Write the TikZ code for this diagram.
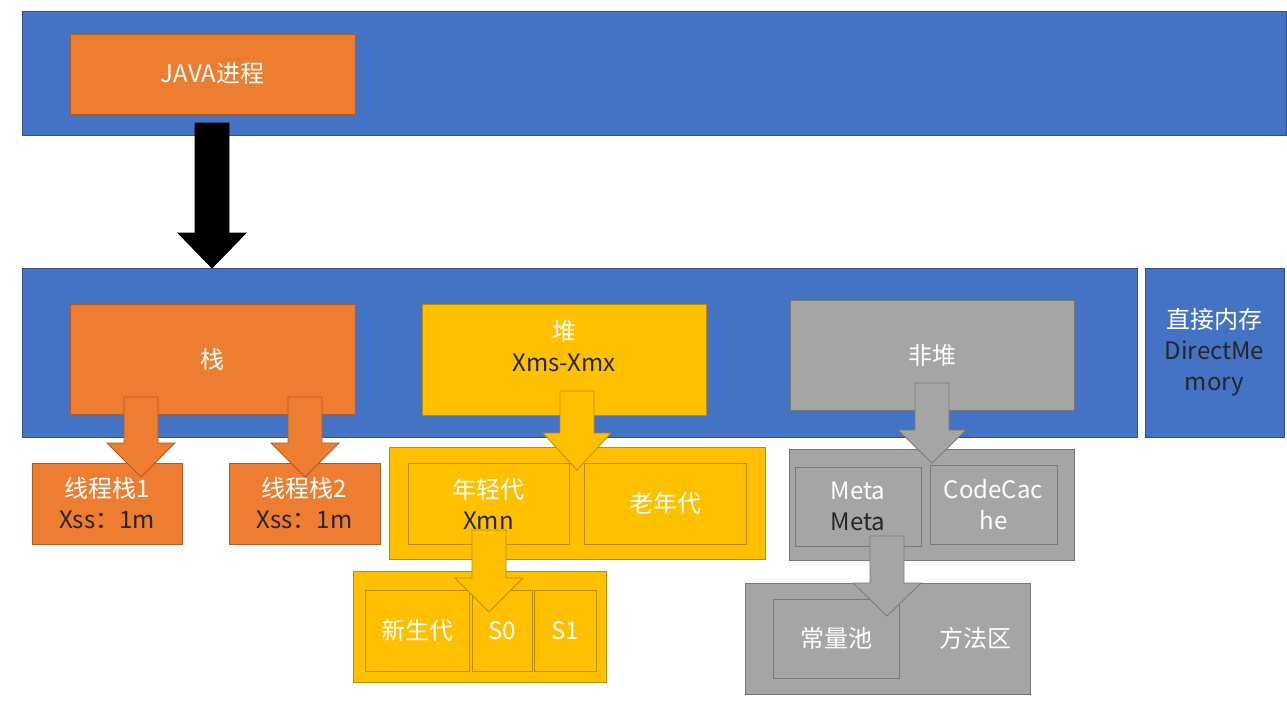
\documentclass[tikz,border=0pt]{standalone}
\usepackage{fontspec}
\setmainfont{Noto Sans CJK SC}
\usepackage{tikz}
\usetikzlibrary{arrows.meta,positioning,calc}
\definecolor{BoxBlue}{HTML}{4472C4}
\definecolor{BlueLine}{HTML}{2F528F}
\definecolor{BoxOrange}{HTML}{ED7D31}
\definecolor{OrangeLine}{HTML}{AE5A21}
\definecolor{BoxYellow}{HTML}{FFC000}
\definecolor{YellowLine}{HTML}{BC8C00}
\definecolor{BoxGray}{HTML}{A5A5A5}
\definecolor{GrayLine}{HTML}{787878}
\definecolor{DarkText}{HTML}{262626}
\tikzset{
  box/.style={rectangle,line width=0.8pt,inner sep=0pt,align=center,text=white},
  bluebox/.style={box,fill=BoxBlue,draw=BlueLine},
  orangebox/.style={box,fill=BoxOrange,draw=OrangeLine},
  yellowbox/.style={box,fill=BoxYellow,draw=YellowLine},
  graybox/.style={box,fill=BoxGray,draw=GrayLine},
}
% block arrow: style, centre x, top y, neck y, tip y
\newcommand{\blockarr}[5]{%
  \draw[#1,line width=0.8pt,line join=miter] (#2-17,#3) -- (#2+17,#3) -- (#2+17,#4) -- (#2+34,#4)
    -- (#2,#5) -- (#2-34,#4) -- (#2-17,#4) -- cycle;}
\newcommand{\dk}[1]{\textcolor{DarkText}{#1}}

\begin{document}
\begin{tikzpicture}[x=1pt,y=-1pt,font=\fontsize{24}{31}\selectfont]
  \useasboundingbox (0,0) rectangle (1287,705);
  % process
  \node[bluebox,minimum width=1264,minimum height=124] (proc) at (654,73) {};
  \node[orangebox,minimum width=285,minimum height=80] (java) at (212.5,74) {JAVA进程};
  % memory
  \node[bluebox,minimum width=1115,minimum height=169] (mem) at (579.5,352.5) {};
  \node[bluebox,minimum width=139,minimum height=169] (direct) at (1214.5,352.5) {直接内存\\\dk{DirectMe}\\\dk{mory}};
  \node[orangebox,minimum width=285,minimum height=110] (stack) at (212.5,359) {栈};
  \node[yellowbox,minimum width=284,minimum height=111] (heap) at (564,359.5) {};
  \node[text=white,align=center] (heapt) at (564,346) {堆\\\dk{Xms-Xmx}};
  \node[graybox,minimum width=284,minimum height=110] (nonheap) at (932,355) {非堆};
  % stack
  \node[orangebox,minimum width=150,minimum height=81] (ts1) at (107,503.5) {线程栈1\\\dk{Xss：1m}};
  \node[orangebox,minimum width=151,minimum height=81] (ts2) at (304.5,503.5) {线程栈2\\\dk{Xss：1m}};
  % heap
  \node[yellowbox,minimum width=376,minimum height=112] (gen) at (577,503) {};
  \node[yellowbox,minimum width=161,minimum height=81] (young) at (488.5,503.5) {年轻代\\\dk{Xmn}};
  \node[yellowbox,minimum width=162,minimum height=81] (old) at (665,503.5) {老年代};
  \node[yellowbox,minimum width=253,minimum height=111] (ygen) at (479.5,626.5) {};
  \node[yellowbox,minimum width=104,minimum height=81] (eden) at (417,630.5) {新生代};
  \node[yellowbox,minimum width=60,minimum height=81] (szero) at (502,630.5) {S0};
  \node[yellowbox,minimum width=62,minimum height=81] (sone) at (565,630.5) {S1};
  % non-heap
  \node[graybox,minimum width=285,minimum height=111] (ngen) at (931.5,504.5) {};
  \node[graybox,minimum width=126,minimum height=79] (meta) at (858,506.5) {Meta\\\dk{Meta}};
  \node[graybox,minimum width=127,minimum height=79] (ccache) at (993.5,504.5) {CodeCac\\he};
  \node[graybox,minimum width=285,minimum height=111] (method) at (887.5,638.5) {};
  \node[graybox,minimum width=126,minimum height=79] (pool) at (836,638.5) {常量池};
  \node[text=white] (methodt) at (975,638) {方法区};
  % arrows
  \blockarr{fill=black,draw=black}{212}{123}{233}{268}
  \blockarr{fill=BoxOrange,draw=OrangeLine}{141}{397}{443}{477}
  \blockarr{fill=BoxOrange,draw=OrangeLine}{305}{397}{443}{477}
  \blockarr{fill=BoxYellow,draw=YellowLine}{577}{391}{433}{470}
  \blockarr{fill=BoxYellow,draw=YellowLine}{489}{530}{578}{612}
  \blockarr{fill=BoxGray,draw=GrayLine}{932}{383}{430}{463}
  \blockarr{fill=BoxGray,draw=GrayLine}{887}{536}{583}{616}
\end{tikzpicture}
\end{document}
